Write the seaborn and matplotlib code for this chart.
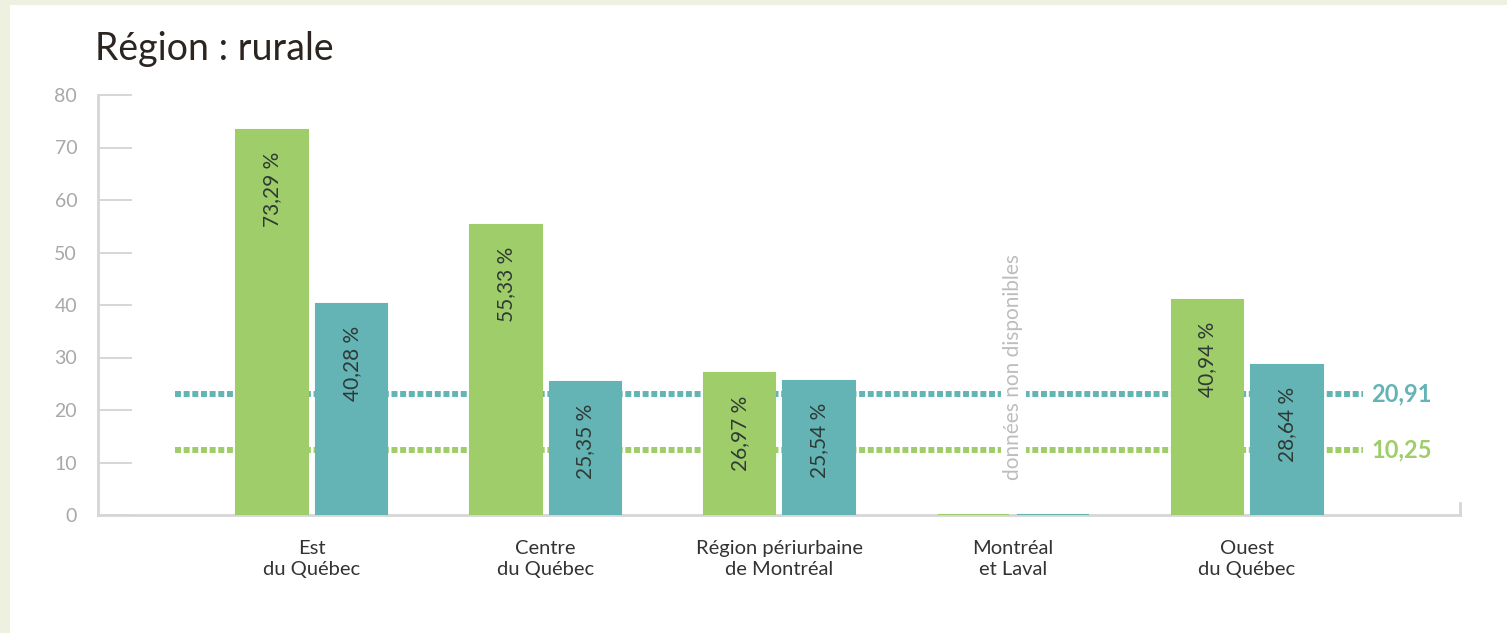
import numpy as np
import pandas as pd
import seaborn as sns
import matplotlib.pyplot as plt
from matplotlib.patches import Rectangle

# Data
regions = ["Est\ndu Québec", "Centre\ndu Québec", "Région périurbaine\nde Montréal",
           "Montréal\net Laval", "Ouest\ndu Québec"]
series_names = ["Série verte", "Série bleue"]
green_values = [73.29, 55.33, 26.97, 0.0, 40.94]
teal_values = [40.28, 25.35, 25.54, 0.0, 28.64]
green_labels = ["73,29 %", "55,33 %", "26,97 %", None, "40,94 %"]
teal_labels = ["40,28 %", "25,35 %", "25,54 %", None, "28,64 %"]
# reference lines: drawn level in the picture and the printed value
ref_levels = [23.0, 12.4]
ref_labels = ["20,91", "10,25"]
missing_text = "données non disponibles"

GREEN = "#9fcd6a"
TEAL = "#64b4b6"

df = pd.DataFrame({
    "region": regions * 2,
    "serie": [series_names[0]] * len(regions) + [series_names[1]] * len(regions),
    "valeur": green_values + teal_values,
})

sns.set_style("white")
plt.rcParams["font.family"] = ["Lato", "DejaVu Sans"]

fig = plt.figure(figsize=(15.07, 6.33), dpi=100, facecolor="#eef0e0")
fig.patches.append(Rectangle((10 / 1507, 0), 1, 628 / 633, transform=fig.transFigure,
                             facecolor="white", edgecolor="none", zorder=-10))
ax = fig.add_axes([98 / 1507, 118 / 633, 1362 / 1507, 420 / 633])
ax.set_facecolor("none")

sns.barplot(data=df, x="region", y="valeur", hue="serie", order=regions,
            palette=[GREEN, TEAL], saturation=1, width=0.68, gap=0.1,
            legend=False, ax=ax, zorder=3)

# zero-height bars still show as a thin coloured line
for bar in ax.patches:
    bar.set_edgecolor(bar.get_facecolor())
    bar.set_linewidth(1.5)

# value labels inside the bars
for container, labels in zip(ax.containers, [green_labels, teal_labels]):
    for bar, lab in zip(container, labels):
        if lab is None:
            continue
        ax.annotate(lab, (bar.get_x() + bar.get_width() / 2, bar.get_height()),
                    xytext=(0, -22), textcoords="offset pixels", rotation=90,
                    ha="center", va="top", fontsize=15, color="#2f3a35", zorder=5)

# dotted reference lines
for level, lab, col in zip(ref_levels, ref_labels, [TEAL, GREEN]):
    ax.axhline(level, xmin=0.0565, xmax=0.929, color=col, lw=4.3,
               linestyle=(0, (1, 0.45)), zorder=2)
    ax.text(0.935, level, lab, transform=ax.get_yaxis_transform(), color=col,
            fontsize=17, fontweight="bold", va="center", ha="left")

# missing data note
ax.text(3, 28.2, missing_text, rotation=90, ha="center", va="center",
        fontsize=15, color="#bdbdbd", zorder=4,
        bbox=dict(facecolor="white", edgecolor="none", pad=2))

ax.set_ylim(0, 80)
ax.set_xlim(-0.915, 4.911)
ax.set_yticks(np.arange(0, 81, 10))
ax.set_xlabel("")
ax.set_ylabel("")

ax.spines["top"].set_visible(False)
for side in ["left", "bottom", "right"]:
    ax.spines[side].set_color("#d6d6d6")
    ax.spines[side].set_linewidth(2)
ax.spines["right"].set_bounds(0, 2.3)

ax.tick_params(axis="y", left=True, direction="in", length=24.5, width=1.4,
               color="#d6d6d6", labelsize=14, labelcolor="#a8a8a8", pad=15)
ax.tick_params(axis="x", length=0, labelsize=14.5, labelcolor="#333333", pad=18)
for lab in ax.get_xticklabels():
    lab.set_linespacing(1.3)

fig.text(95 / 1507, 1 - 49 / 633, "Région : rurale", fontsize=27, color="#2b2420",
         va="center", ha="left")

fig.savefig("out.png", dpi=100, facecolor=fig.get_facecolor())
